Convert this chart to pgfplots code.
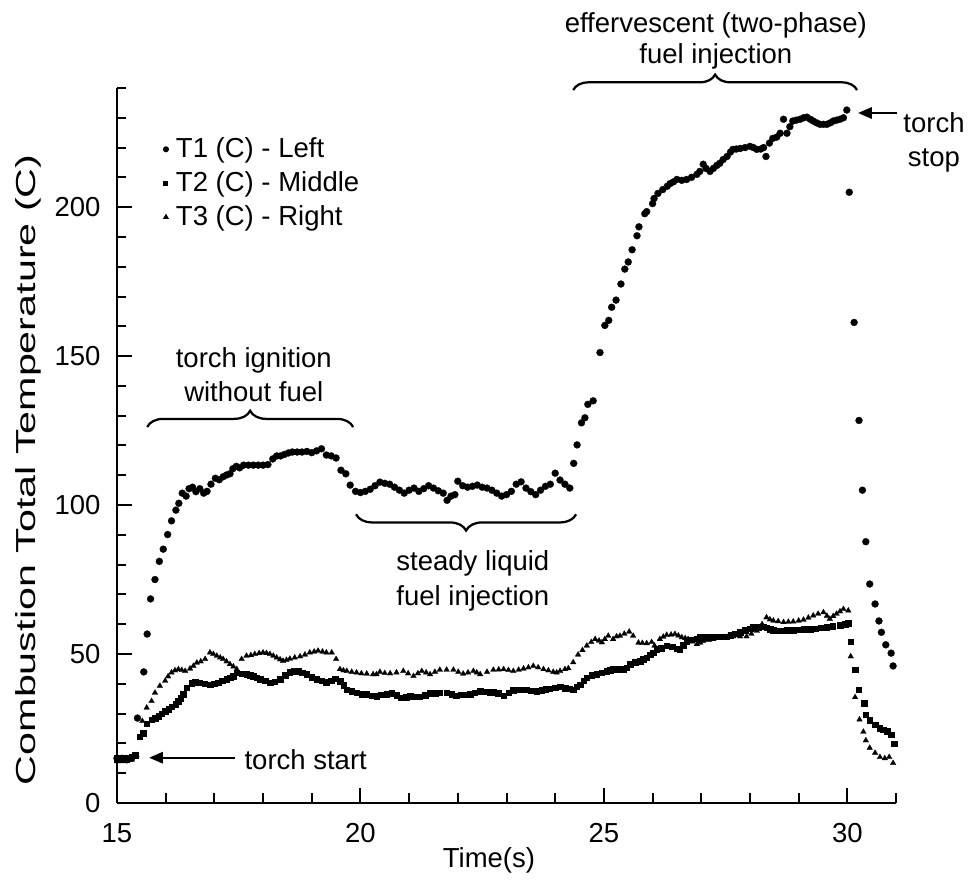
\documentclass[border=0pt]{standalone}
\usepackage{fontspec}
\setmainfont{Liberation Sans}
\usepackage{pgfplots}
\usepackage{pgfplotstable}
\pgfplotsset{compat=1.18}
\usetikzlibrary{decorations.pathreplacing,arrows.meta}

\pgfplotstableread{
x y
15.00 15
15.10 15
15.20 14.5
15.30 15
15.42 28.5
15.55 44
15.62 56.7
15.69 68.5
15.78 75
15.87 81.1
15.95 85.2
16.04 90.1
16.12 94.7
16.21 98.3
16.27 100.6
16.34 104
16.42 103
16.48 105.5
16.55 106
16.62 104.5
16.70 105.5
16.78 104
16.85 104.6
16.93 107
17.02 109
17.10 108.5
17.18 109.5
17.25 110.1
17.32 110.5
17.38 112.2
17.45 113
17.52 112.5
17.60 113.4
17.70 113.4
17.80 113.4
17.90 113.4
18.00 113.4
18.10 113.6
18.20 115.5
18.28 116.5
18.36 116.5
18.44 117
18.52 117.5
18.60 117.8
18.70 117.8
18.80 117.8
18.90 118
19.00 117.6
19.10 118.2
19.20 118.9
19.30 116.8
19.40 116.5
19.50 115.8
19.60 111.7
19.70 110.5
19.79 106.7
19.90 104.6
20.00 104.2
20.10 104.6
20.20 105.3
20.30 106.5
20.40 107.7
20.50 107.3
20.60 107
20.70 106
20.80 105
20.90 104
21.00 105
21.10 105.7
21.20 104.6
21.30 105.5
21.40 106.5
21.50 105.7
21.60 104.8
21.70 104
21.78 101.6
21.86 103
21.94 103.5
22.00 108
22.10 106.5
22.20 106
22.30 106.3
22.40 106.7
22.50 106
22.60 105.7
22.70 105
22.80 104
22.90 103
23.00 103.5
23.10 104.6
23.20 107
23.30 107.8
23.40 105.7
23.50 104.5
23.60 103.5
23.70 105
23.80 106.3
23.90 107
24.00 110.7
24.10 108.4
24.20 107
24.30 105.7
24.38 114
24.45 120.2
24.54 127.6
24.61 129.3
24.67 133.8
24.78 135
24.92 151.2
25.02 160.3
25.10 162
25.16 166.4
25.25 168.8
25.35 174.2
25.43 179.2
25.50 181.6
25.58 185.7
25.68 190.4
25.72 193.4
25.84 197.8
25.88 198.5
26.00 201.2
26.03 202.9
26.11 204.6
26.21 205.9
26.30 207
26.36 207.9
26.43 208.5
26.50 209.3
26.60 209
26.70 209.3
26.80 210
26.91 211
26.97 212
27.04 214.4
27.10 213
27.18 212
27.25 213
27.32 214
27.38 214.7
27.45 216
27.53 217
27.60 218.5
27.65 219.4
27.72 219.5
27.80 219.7
27.90 220
28.00 220.4
28.07 220
28.14 219.4
28.22 219.5
28.28 220
28.33 217
28.40 221.5
28.47 223.1
28.55 223.5
28.62 224.8
28.69 229.5
28.76 224.8
28.82 227
28.88 228.9
28.95 229.2
29.03 229.5
29.10 230
29.17 230.2
29.24 229.5
29.30 228.9
29.37 228.3
29.44 227.8
29.51 227.8
29.58 227.8
29.65 228.3
29.71 228.9
29.78 229.2
29.85 229.5
29.92 230
29.99 232.6
30.04 205
30.14 161.3
30.24 128.4
30.31 105
30.38 87.7
30.46 73.5
30.57 66.8
30.65 61.1
30.70 57.3
30.79 53.1
30.90 50.3
30.94 46
}\tone

\pgfplotstableread{
x y
15.00 15
15.05 14.5
15.10 14.5
15.15 15
15.20 14.5
15.25 15
15.30 15.5
15.37 16
15.46 22.2
15.54 23.5
15.61 26.7
15.71 28
15.78 28.5
15.85 29.1
15.92 30
15.99 30.8
16.06 31.5
16.12 32.3
16.20 33.2
16.26 34.2
16.31 35.2
16.36 36.5
16.43 38.7
16.53 40.2
16.60 40.5
16.70 40.4
16.80 40
16.91 39.8
17.00 40
17.08 40.4
17.16 41
17.25 41.5
17.32 42
17.39 42.6
17.46 43.7
17.56 43.5
17.66 43.2
17.73 43
17.80 42.6
17.87 42
17.94 41.5
18.04 41
18.14 40.4
18.24 40.8
18.35 41.5
18.45 43
18.55 44
18.63 44.3
18.72 44.3
18.80 43.8
18.89 43.2
19.00 42.3
19.10 41.5
19.20 41
19.30 40.6
19.40 41
19.48 41.7
19.58 40.9
19.65 39.5
19.72 38.1
19.82 37.5
19.92 37
20.02 36.5
20.13 36.5
20.23 36
20.33 35.9
20.43 36.3
20.54 36.5
20.64 36.8
20.74 36.2
20.84 35.3
20.94 35.6
21.02 35.9
21.12 35.7
21.22 35.7
21.33 36.2
21.43 36.8
21.53 36.8
21.63 37
21.77 37
21.87 36.5
21.97 36.1
22.07 36.3
22.17 36.4
22.25 36.5
22.35 37
22.46 37.6
22.56 37.4
22.66 37.2
22.73 37.2
22.83 36.8
22.94 36.1
23.04 37
23.14 37.9
23.24 38
23.34 38
23.41 38.1
23.51 37.8
23.62 37.6
23.72 37.9
23.80 38.2
23.89 38.4
24.00 38.8
24.10 39
24.20 38.6
24.30 38.4
24.37 38.1
24.44 39
24.51 39.8
24.58 41
24.65 42.1
24.75 43
24.85 43.2
24.95 43.8
25.06 44.3
25.13 44.6
25.19 44.9
25.30 44.9
25.40 44.9
25.47 45.5
25.54 46.6
25.64 47.2
25.74 47.7
25.81 48.3
25.88 48.8
25.95 49.8
26.01 50.5
26.08 51.6
26.18 52
26.29 52.8
26.40 52.5
26.50 51.8
26.56 51.6
26.63 53
26.70 54.4
26.80 54.8
26.90 55.2
26.97 55.6
27.07 55.7
27.16 55.8
27.25 55.9
27.34 55.9
27.43 55.9
27.52 55.9
27.60 56.3
27.70 56.8
27.80 57.3
27.90 58
28.00 58.6
28.07 59
28.17 59.1
28.27 59.2
28.34 58.8
28.41 58.4
28.48 58
28.55 57.8
28.65 57.8
28.75 58
28.89 58.1
29.00 58.2
29.10 58.3
29.24 58.4
29.35 58.6
29.46 58.8
29.58 59
29.70 59.3
29.85 59.7
29.95 60.1
30.02 60.4
30.07 54.2
30.16 44.7
30.23 38.1
30.34 33.6
30.38 29.7
30.46 27.8
30.57 26.3
30.66 25.2
30.74 24.6
30.82 24.1
30.90 23
30.96 19.9
}\ttwo

\pgfplotstableread{
x y
15.00 14
15.10 14
15.20 14.5
15.30 14.5
15.40 16
15.52 27.5
15.61 32
15.71 34.2
15.78 37
15.88 39.3
15.99 41
16.05 42.5
16.12 43.8
16.19 44.5
16.26 44.9
16.33 44.6
16.40 44.3
16.50 45.1
16.57 46
16.64 47.1
16.72 47.5
16.81 48.3
16.91 50.5
16.98 50
17.05 49.4
17.12 48.8
17.18 48.3
17.25 47.5
17.32 46.6
17.39 45.8
17.46 44.9
17.56 48.3
17.66 49.4
17.75 49.6
17.83 50
17.92 50.3
18.00 50.5
18.07 50.3
18.14 50
18.21 49.4
18.28 48.8
18.35 48.2
18.41 47.7
18.48 48
18.55 48.4
18.65 48.8
18.76 49.2
18.86 49.8
18.96 50.5
19.05 50.8
19.13 51.1
19.22 50.8
19.30 50.5
19.41 50.5
19.50 48.3
19.58 44.9
19.65 44.5
19.72 44.3
19.82 44
19.92 43.8
20.02 43.5
20.13 43.4
20.26 43.2
20.33 43.2
20.40 44
20.50 43.6
20.61 43.5
20.74 43.8
20.88 44.3
20.98 43.5
21.09 42.6
21.18 43.5
21.26 44.3
21.35 43.8
21.43 43.2
21.53 44
21.63 44.7
21.77 44.7
21.91 44.7
22.01 44
22.11 43.4
22.21 43.8
22.32 44.3
22.39 43.8
22.46 43.2
22.60 44
22.73 44.7
22.84 44.8
22.94 44.9
23.04 44.6
23.14 44.3
23.25 44.7
23.35 45.1
23.45 45.5
23.55 46
23.65 45.5
23.76 44.9
23.86 44.5
23.96 44
24.03 43.8
24.10 44.3
24.20 44.9
24.27 45.2
24.37 47.2
24.47 49.8
24.56 51.3
24.65 52.8
24.74 54
24.82 55
24.90 54.5
24.96 53.9
25.02 55
25.09 56.1
25.19 55
25.26 55.9
25.33 56.1
25.42 56.8
25.52 57.5
25.60 56.1
25.71 53.8
25.79 53.7
25.88 53.6
25.98 54
26.04 52.8
26.15 55
26.22 55.8
26.29 56.4
26.38 56.5
26.46 56.7
26.53 56.2
26.60 55.6
26.67 55.3
26.73 55
26.82 54.2
26.91 53.3
26.98 53.8
27.04 54.4
27.15 54.7
27.25 55
27.35 55.3
27.45 55.6
27.55 55.8
27.66 55.9
27.80 55.9
27.93 55.9
28.03 56.8
28.14 57.8
28.25 60
28.34 62.3
28.41 61.6
28.48 61.2
28.58 61
28.69 60.7
28.79 60.8
28.89 60.9
29.00 61.2
29.10 61.5
29.20 62.2
29.30 62.9
29.40 63.5
29.51 64
29.58 62.8
29.64 61.8
29.71 62.7
29.78 63.5
29.85 64.3
29.92 65.1
30.02 64.6
30.07 49.2
30.16 35.5
30.25 28
30.33 23.9
30.38 21
30.46 18.5
30.57 16.8
30.67 15.4
30.77 15
30.86 15.4
30.94 13.4
}\tthree

\begin{document}
\begin{tikzpicture}[x=1pt,y=1pt]
\useasboundingbox (-46.8,-30.8) rectangle (340.8,321.2);
\begin{axis}[
  at={(0,0)}, anchor=south west,
  scale only axis, width=311.6pt, height=286pt,
  xmin=15, xmax=31, ymin=0, ymax=240,
  axis lines=left,
  axis line style={-, line width=1.1pt},
  xtick={15,20,25,30},
  minor xtick={16,17,18,19,21,22,23,24,26,27,28,29,31},
  ytick={0,50,100,150,200},
  minor ytick={10,20,30,40,60,70,80,90,110,120,130,140,160,170,180,190,210,220,230,240},
  tick align=inside,
  major tick length=6pt, minor tick length=3.8pt,
  every tick/.style={black, line width=0.8pt},
  clip=false,
  /pgf/number format/assume math mode=true,
  ticklabel style={font=\fontsize{11}{13}\selectfont},
  xticklabel style={yshift=-4.7pt},
  yticklabel style={xshift=-3.1pt},
  xlabel={Time(s)},
  ylabel={Combustion Total Temperature (C)},
  label style={font=\fontsize{11}{13}\selectfont},
  x label style={at={(axis description cs:0.4775,0)}, anchor=center, yshift=-22.8pt},
  y label style={at={(axis description cs:-0.114,0.466)}, anchor=center, xscale=1.5},
  legend image code/.code={\draw[mark repeat=2,mark phase=2,#1] plot coordinates {(0pt,0pt) (2pt,0pt) (4pt,0pt)};},
  legend style={draw=none, fill=none, at={(axis description cs:0.059,0.9315)}, anchor=north west,
    inner sep=0pt, row sep=4.1pt, column sep=3pt,
    nodes={inner sep=0pt, font=\fontsize{11}{13}\selectfont}},
  legend cell align=left,
]
\addlegendimage{only marks, mark=*, mark size=1pt, black}
\addlegendimage{only marks, mark=square*, mark size=0.8pt, black}
\addlegendimage{only marks, mark=triangle*, mark size=1pt, black}
\legend{T1 (C) - Left, T2 (C) - Middle, T3 (C) - Right}

\addplot[forget plot, only marks, mark=*, mark size=1.4pt, black, mark options={line width=0.1pt}] table[x=x,y=y] {\tone};
\addplot[forget plot, only marks, mark=square*, mark size=1.1pt, black, mark options={line width=0.1pt}] table[x=x,y=y] {\ttwo};
\addplot[forget plot, only marks, mark=triangle*, mark size=1.3pt, black, mark options={line width=0.1pt}] table[x=x,y=y] {\tthree};

% annotations
\node[align=center, inner sep=0pt, font=\fontsize{11}{13.6}\selectfont] at (axis cs:17.81,143.8) {torch ignition\\without fuel};
\draw[decorate, decoration={brace, amplitude=6.5pt}, line width=0.9pt] (axis cs:15.62,126.2) -- (axis cs:19.85,126.2);

\draw[decorate, decoration={brace, amplitude=6.5pt}, line width=0.9pt] (axis cs:24.43,96.9) -- (axis cs:19.91,96.9);
\node[align=center, inner sep=0pt, font=\fontsize{11}{14}\selectfont] at (axis cs:22.31,74.4) {steady liquid\\fuel injection};

\draw[decorate, decoration={brace, amplitude=6.2pt}, line width=0.9pt] (axis cs:24.37,239.3) -- (axis cs:30.2,239.3);
\node[align=center, inner sep=0pt, font=\fontsize{11}{12.4}\selectfont] at (axis cs:27.3,255.9) {effervescent (two-phase)\\fuel injection};

\draw[-{Triangle[length=5.5pt,width=4.5pt]}, line width=0.9pt] (axis cs:31.02,231.6) -- (axis cs:30.22,231.6);
\node[align=center, inner sep=0pt, font=\fontsize{11}{13.6}\selectfont] at (axis cs:31.78,221.8) {torch\\stop};

\draw[-{Triangle[length=5.5pt,width=4.5pt]}, line width=0.9pt] (axis cs:17.42,15.2) -- (axis cs:15.66,15.2);
\node[anchor=west, inner sep=0pt, font=\fontsize{11}{13}\selectfont] at (axis cs:17.61,14.6) {torch start};
\end{axis}
\end{tikzpicture}
\end{document}
